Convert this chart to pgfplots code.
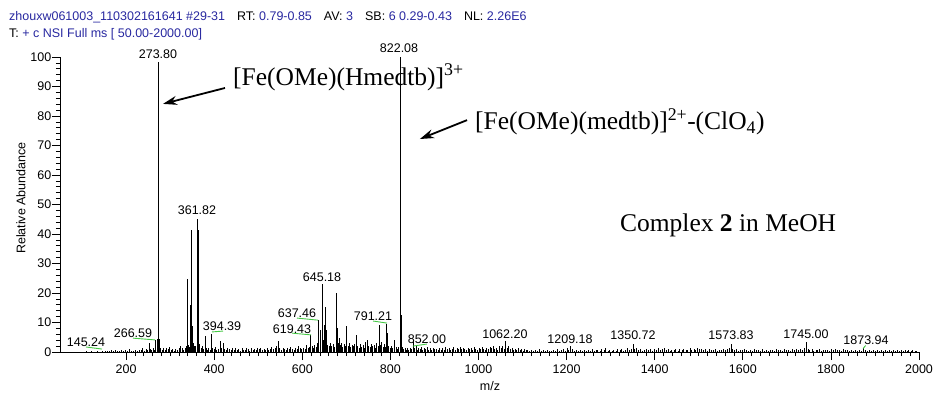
\documentclass[border=0pt]{standalone}
\usepackage{pgfplots}
\pgfplotsset{compat=1.18}
\usepackage{pgfplotstable}
\usepackage{fontspec}
\setmainfont{Liberation Sans}
\newfontfamily\seriffont{Liberation Serif}
\usetikzlibrary{arrows.meta}
\definecolor{tblue}{RGB}{40,40,160}
\definecolor{lgreen}{RGB}{70,200,70}
\pgfplotstableread{
x y
109 0.2
121 0.3
134 0.2
146 0.4
152 0.3
158 0.5
163 0.2
167 0.6
172 0.4
176 0.7
181 0.3
185 0.5
190 0.8
194 0.4
199 0.6
203 0.3
208 0.9
212 0.5
217 0.4
221 0.7
226 0.5
230 0.8
234 0.6
238 1.2
241 0.5
245 0.9
248 0.6
252 3.0
255 1.0
258 0.7
261 1.3
264 0.8
266.6 4.0
270.5 4.5
273.8 98.3
275.5 4.5
278 1.5
282 0.8
285 1.2
289 0.6
292 1.5
296 0.9
299 1.8
303 0.7
306 1.1
310 0.5
313 0.9
317 0.6
320 1.3
324 1.9
327 1.2
331 0.8
334 1.5
337 2.2
340 24.6
342 2.5
344 1.8
346 16.0
348 41.5
350 8.7
352 3.0
354 2.2
356 1.5
358 2.0
361.8 45.2
364.5 41.3
367 2.8
370 1.5
373 2.0
376 1.0
379 5.3
382 1.2
385 0.8
388 1.4
391 0.7
394.4 6.2
397 1.3
400 0.9
403 1.6
406 0.8
409 1.1
413 3.6
416 1.2
420 3.0
423 1.0
427 0.7
430 1.4
434 0.9
438 0.6
441 1.2
445 0.8
448 1.5
452 0.7
456 1.1
459 0.5
463 1.3
466 0.8
470 0.6
473 1.2
477 0.9
481 0.5
484 1.4
488 0.8
491 1.0
495 0.6
499 1.5
502 0.9
506 1.3
509 0.7
513 1.1
517 0.6
520 1.4
524 0.8
528 1.0
531 1.6
535 0.9
538 1.3
542 2.0
545 3.8
549 1.2
552 0.8
556 1.5
560 1.0
563 0.7
567 1.3
570 0.9
574 1.7
578 1.1
581 0.8
585 1.4
588 1.0
592 1.9
596 1.2
599 0.9
603 1.5
606 1.1
610 2.3
613 1.4
616 1.8
619.4 5.9
622 2.0
625 1.5
628 2.4
631 1.8
634 3.0
637.5 11.0
640 7.3
642 2.5
645.2 23.2
648 4.0
649.6 9.3
652.7 15.2
655 7.6
658 2.5
661 1.9
664 3.2
667 2.2
670 2.8
673 1.7
677 20.0
679 8.2
681 3.0
683.6 4.8
686 2.4
689 3.1
692 1.8
695 2.6
698 2.0
701 8.7
704 2.2
707 3.0
710 1.6
713 2.5
716 1.9
719 2.8
723.7 5.9
726 2.2
729 1.5
732 2.7
735 1.8
738 2.3
741 1.4
744 3.5
748 4.2
751 2.0
754 1.6
757 2.8
760 1.9
763 2.4
766 1.5
769 3.0
772 2.1
776 9.3
778 2.5
780 3.5
783 1.8
786 2.6
789 1.7
791.2 9.6
793.5 6.5
796 2.0
799 1.3
802 2.2
805 1.5
808 2.0
810 4.0
813 1.6
816 1.0
819 1.8
822.1 100
823.1 43.0
824.1 12.5
827 1.8
830 1.0
833 1.4
836 0.8
839 1.2
842 0.6
845 1.5
848 0.9
852 3.3
855 1.2
858 2.4
861 0.8
864 1.5
867 1.0
870 1.8
873 0.7
877 1.3
880 0.9
884 1.6
887 0.8
891 1.2
894 0.6
898 1.4
901 0.9
905 1.1
909 0.6
912 1.5
916 0.8
919 1.2
923 0.7
926 1.6
930 0.9
933 1.3
937 0.6
940 1.1
944 1.7
947 0.8
951 1.3
955 1.0
958 1.8
962 0.9
965 1.4
969 1.1
972 0.7
976 1.5
979 0.9
983 1.2
987 0.6
990 1.6
994 1.0
997 0.8
1001 1.4
1005 0.9
1008 1.7
1012 1.1
1015 0.7
1019 1.5
1022 1.0
1026 1.8
1030 1.2
1033 2.0
1037 1.0
1040 1.5
1044 0.8
1048 1.9
1051 1.3
1055 2.2
1058 1.0
1062.2 3.6
1065 1.2
1069 2.0
1072 0.9
1076 1.4
1080 0.8
1083 1.1
1087 0.6
1090 1.3
1094 0.7
1098 1.0
1101 0.5
1105 0.9
1109 0.6
1112 0.8
1116 0.4
1121 0.6
1125 0.3
1130 0.7
1134 0.5
1139 0.9
1143 0.4
1148 0.6
1152 0.3
1157 0.8
1161 0.5
1166 0.4
1170 0.7
1175 0.5
1179 0.9
1184 0.4
1188 0.6
1193 1.0
1197 0.5
1202 1.2
1205 0.8
1209.2 1.9
1213 0.9
1217 0.5
1222 0.7
1226 0.4
1231 0.8
1235 0.5
1240 0.6
1244 0.3
1249 0.7
1253 0.5
1258 0.9
1262 0.4
1267 0.6
1271 0.8
1276 0.5
1280 1.1
1285 0.6
1289 1.3
1294 0.5
1298 0.8
1303 0.4
1307 0.7
1312 0.5
1316 0.9
1321 0.6
1325 1.0
1330 0.5
1334 0.8
1339 1.2
1343 0.6
1347 1.0
1350.7 2.7
1354 0.9
1358 1.3
1363 0.6
1367 0.9
1372 0.5
1376 0.8
1381 1.1
1385 0.6
1390 0.9
1394 0.5
1399 1.0
1403 0.7
1408 1.2
1412 0.6
1417 0.9
1421 1.4
1426 0.7
1430 1.0
1435 0.5
1439 0.8
1444 0.6
1448 1.1
1453 0.5
1457 0.9
1462 0.7
1466 1.0
1471 0.6
1475 0.8
1480 1.2
1484 0.7
1489 1.0
1493 0.8
1498 1.3
1502 0.9
1507 1.1
1511 0.6
1516 0.9
1520 0.5
1525 1.0
1529 0.7
1534 0.6
1538 0.9
1543 0.5
1547 0.8
1552 0.6
1556 1.0
1561 0.7
1565 0.9
1569 1.3
1573.8 2.8
1577 1.0
1582 0.7
1586 0.9
1591 0.5
1595 0.8
1600 0.6
1604 1.0
1609 0.7
1613 0.5
1618 0.8
1622 0.4
1627 0.9
1631 0.6
1636 0.7
1640 0.5
1645 0.9
1649 0.4
1654 0.7
1658 0.5
1663 0.8
1667 0.6
1672 0.5
1676 0.9
1681 0.6
1685 0.8
1690 0.5
1694 1.0
1699 0.6
1703 0.8
1708 0.5
1712 0.9
1717 0.6
1721 1.1
1726 0.7
1730 0.9
1735 0.6
1739 1.2
1745 3.3
1748 1.0
1752 0.7
1757 0.9
1761 0.5
1766 0.8
1770 0.6
1775 0.9
1779 0.5
1784 0.7
1788 0.6
1793 0.8
1797 0.5
1802 0.9
1806 0.6
1811 1.1
1815 0.7
1820 0.8
1824 0.5
1829 0.9
1833 0.6
1838 0.7
1842 0.4
1847 0.8
1851 0.5
1856 0.6
1860 0.4
1865 0.7
1869 0.5
1874 1.2
1878 0.6
1883 0.4
1887 0.7
1892 0.5
1896 0.8
1901 0.4
1905 0.6
1910 0.5
1914 0.7
1919 0.4
1923 0.8
1928 0.5
1932 0.6
1937 0.4
1941 0.7
1946 0.5
1950 0.8
1955 0.4
1959 0.6
1964 0.5
1968 0.7
1973 0.4
1977 0.6
1982 0.5
1986 0.7
1991 0.4
1995 0.5
}\spectrum
\begin{document}
\begin{tikzpicture}
\useasboundingbox (0,0) rectangle (936pt,392pt);
% header
\node[anchor=base west,inner sep=0pt,font=\fontsize{12.5}{14}\selectfont] at (9pt,371pt)
  {\textcolor{tblue}{zhouxw061003\_110302161641 \#29-31}\hspace{12pt}RT: \textcolor{tblue}{0.79-0.85}\hspace{12pt}AV: \textcolor{tblue}{3}\hspace{12pt}SB: \textcolor{tblue}{6 0.29-0.43}\hspace{12pt}NL: \textcolor{tblue}{2.26E6}};
\node[anchor=base west,inner sep=0pt,font=\fontsize{12.5}{14}\selectfont] at (9pt,354.5pt)
  {T: \textcolor{tblue}{+ c NSI Full ms [ 50.00-2000.00]}};
\begin{axis}[
  at={(60pt,40pt)}, anchor=south west,
  scale only axis, width=859pt, height=295pt,
  xmin=50, xmax=2000, ymin=0, ymax=100,
  axis x line*=bottom, axis y line*=left,
  axis line style={-, line width=0.8pt},
  clip=false,
  xtick={200,400,...,2000},
  minor x tick num=9,
  ytick={0,10,...,100},
  minor y tick num=4,
  tick align=outside,
  major tick length=8pt, minor tick length=4pt,
  every tick/.style={black, line width=0.7pt},
  /pgf/number format/assume math mode=true,
  /pgf/number format/1000 sep={},
  ticklabel style={font=\fontsize{12.5}{14}\selectfont},
  yticklabel style={inner sep=0.5pt},
  xticklabel style={yshift=-1pt},
  xlabel={m/z}, ylabel={Relative Abundance},
  every axis x label/.style={at={(axis cs:1026,-11.5)}, anchor=center, font=\fontsize{12.5}{14}\selectfont},
  every axis y label/.style={at={(axis cs:-38.5,52.2)}, anchor=center, rotate=90, font=\fontsize{12.5}{14}\selectfont},
]
\addplot[ycomb, black, line width=0.8pt, mark=none] table[x=x,y=y] {\spectrum};
% peak labels
\begin{scope}[every node/.style={font=\fontsize{12.5}{14}\selectfont, inner sep=0pt}]
\node at (axis cs:272.5,101) {273.80};
\node at (axis cs:819.6,103) {822.08};
\node at (axis cs:361,48.1) {361.82};
\node at (axis cs:644.8,25.4) {645.18};
\node at (axis cs:1060,6.1) {1062.20};
\node at (axis cs:1207.8,4.4) {1209.18};
\node at (axis cs:1350.8,5.8) {1350.72};
\node at (axis cs:1573.3,5.8) {1573.83};
\node at (axis cs:1743.5,6.1) {1745.00};
\node at (axis cs:1879.7,4.1) {1873.94};
\node at (axis cs:109,3.4) {145.24};
\node at (axis cs:215.7,6.4) {266.59};
\node at (axis cs:417.8,8.8) {394.39};
\node at (axis cs:576.7,7.8) {619.43};
\node at (axis cs:588,13.2) {637.46};
\node at (axis cs:760.5,12.2) {791.21};
\node at (axis cs:883,4.4) {852.00};
\end{scope}
% green leaders
\begin{scope}[lgreen, line width=0.9pt]
\draw (axis cs:109,1.7) -- (axis cs:145.3,1.0);
\draw (axis cs:215.7,4.7) -- (axis cs:265.7,4.1);
\draw (axis cs:395,6.8) -- (axis cs:420,7.1);
\draw (axis cs:576.7,6.4) -- (axis cs:619.8,5.8);
\draw (axis cs:588,11.5) -- (axis cs:635.7,10.8);
\draw (axis cs:760.5,10.5) -- (axis cs:792.3,9.8);
\draw (axis cs:851,2.0) -- (axis cs:883,2.7);
\draw (axis cs:1873,1.2) -- (axis cs:1879,2.2);
\end{scope}
% annotations
\node[anchor=base west, inner sep=0pt, font=\seriffont\fontsize{25.5}{28}\selectfont] at (axis cs:442.7,90.5)
  {[Fe(OMe)(Hmedtb)]\textsuperscript{3+}};
\node[anchor=base west, inner sep=0pt, font=\seriffont\fontsize{25.5}{28}\selectfont] at (axis cs:992,75.3)
  {[Fe(OMe)(medtb)]\textsuperscript{2+}-(ClO\textsubscript{4})};
\node[anchor=base west, inner sep=0pt, font=\seriffont\fontsize{25.5}{28}\selectfont] at (axis cs:1321,40.7)
  {Complex \textbf{2} in MeOH};
\draw[-{Stealth[length=14pt,width=9pt]}, line width=1.8pt] (axis cs:424.6,89.5) -- (axis cs:283.8,84.1);
\draw[-{Stealth[length=14pt,width=9pt]}, line width=1.8pt] (axis cs:974,78.6) -- (axis cs:867,72.2);
\end{axis}
\end{tikzpicture}
\end{document}
